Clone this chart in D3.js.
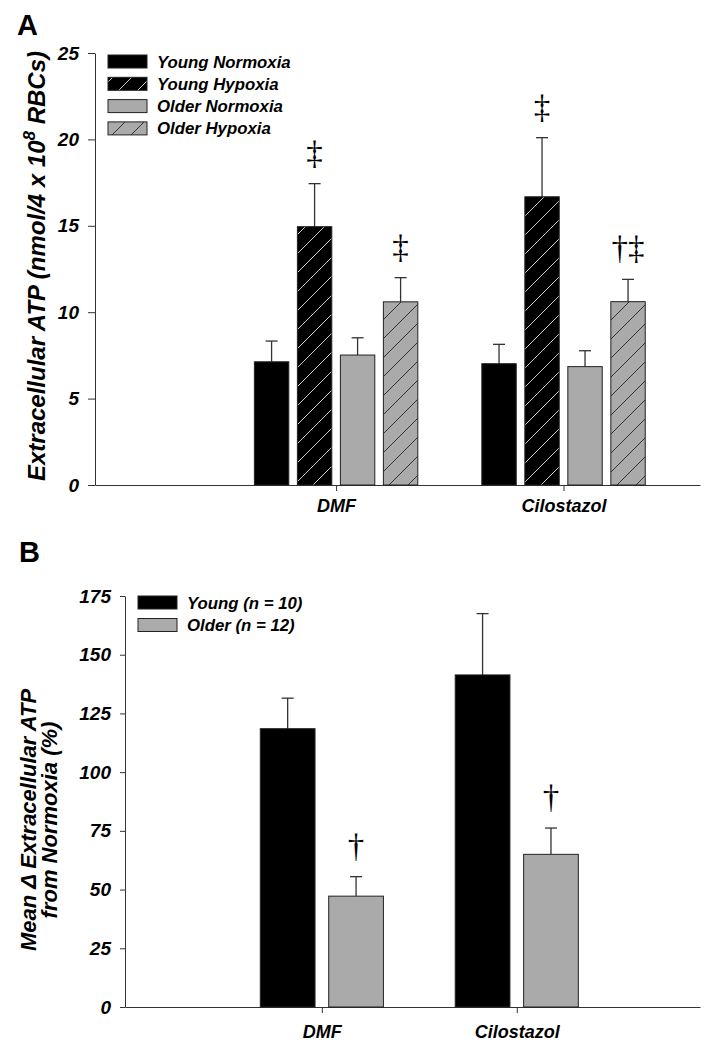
<!DOCTYPE html>
<html>
<head>
<meta charset="utf-8">
<script src="https://cdn.jsdelivr.net/npm/d3@7/dist/d3.min.js"></script>
<style>
  body { margin: 0; background: #fff; }
  svg { display: block; font-family: "Liberation Sans", Arial, sans-serif; }
  .lbl { font-weight: bold; font-style: italic; fill: #000; }
</style>
</head>
<body>
<div id="chart"></div>
<script>
// Datos
const drugs = ["DMF", "Cilostazol"];

// Panel A (nmol/4 x 10^8 RBCs)
const seriesA = ["Young Normoxia", "Young Hypoxia", "Older Normoxia", "Older Hypoxia"];
const youngNormoxia = [7.13, 7.02];
const youngNormoxiaSE = [1.2, 1.12];
const youngHypoxia = [14.95, 16.68];
const youngHypoxiaSE = [2.49, 3.42];
const olderNormoxia = [7.52, 6.85];
const olderNormoxiaSE = [1.0, 0.92];
const olderHypoxia = [10.6, 10.61];
const olderHypoxiaSE = [1.4, 1.29];
const youngHypoxiaSig = ["\u2021", "\u2021"];
const olderHypoxiaSig = ["\u2021", "\u2020\u2021"];
const ticksA = [0, 5, 10, 15, 20, 25];

// Panel B (% change from normoxia)
const seriesB = ["Young (n = 10)", "Older (n = 12)"];
const youngDelta = [118.5, 141.4];
const youngDeltaSE = [13.0, 26.1];
const olderDelta = [47.2, 65.0];
const olderDeltaSE = [8.3, 11.2];
const olderDeltaSig = ["\u2020", "\u2020"];
const ticksB = [0, 25, 50, 75, 100, 125, 150, 175];

const width = 725, height = 1050;
const svg = d3.select('#chart').append('svg')
    .attr('width', width)
    .attr('height', height);

// patrones de rayado
const defs = svg.append('defs');
function hatch(id, bg, line) {
    let p = defs.append('pattern')
        .attr('id', id)
        .attr('patternUnits', 'userSpaceOnUse')
        .attr('width', 19)
        .attr('height', 19);
    p.append('rect').attr('width', 19).attr('height', 19).attr('fill', bg);
    p.append('path')
        .attr('d', 'M0,19 L19,0 M-3,3 L3,-3 M16,22 L22,16')
        .attr('stroke', line)
        .attr('stroke-width', 1);
}
hatch('hatchBlack', '#000', '#c8c8c8');
hatch('hatchGray', '#aaaaaa', '#333');

const fillsA = ['#000', 'url(#hatchBlack)', '#aaaaaa', 'url(#hatchGray)'];
const fillsB = ['#000', '#aaaaaa'];

function styleAxis(g) {
    g.selectAll('path, line').attr('stroke', '#333').attr('stroke-width', 1);
    g.selectAll('text').attr('class', 'lbl').attr('fill', '#000');
}

function drawPanel(cfg) {
    const g = svg.append('g');
    const y = d3.scaleLinear().domain(cfg.yDomain).range(cfg.yRange);
    const x = d3.scaleLinear().domain(cfg.xDomain).range(cfg.xRange);
    const inner = d3.scaleBand()
        .domain(cfg.series)
        .range([-cfg.half, cfg.half])
        .paddingInner(0.2)
        .paddingOuter(0.1);

    // eje y
    g.append('g')
        .attr('transform', 'translate(' + cfg.xRange[0] + ',0)')
        .call(d3.axisLeft(y).tickValues(cfg.ticks).tickSize(cfg.yTick).tickPadding(cfg.yPad).tickSizeOuter(0))
        .call(styleAxis)
        .selectAll('text').style('font-size', '19px');

    // eje x
    g.append('g')
        .attr('transform', 'translate(0,' + cfg.yRange[0] + ')')
        .call(d3.axisBottom(x).tickValues([1, 2]).tickFormat((d, i) => drugs[i]).tickSize(6).tickPadding(cfg.xPad).tickSizeOuter(0))
        .call(styleAxis)
        .selectAll('text').style('font-size', '18px');

    // barras
    cfg.series.forEach(function(s, si) {
        drugs.forEach(function(dname, di) {
            let v = cfg.values[si][di], e = cfg.errors[si][di];
            let bx = x(di + 1) + inner(s);
            let cx = bx + inner.bandwidth() / 2;
            g.append('line')
                .attr('x1', cx).attr('x2', cx)
                .attr('y1', y(v)).attr('y2', y(v + e))
                .attr('stroke', '#333').attr('stroke-width', 1.3);
            g.append('line')
                .attr('x1', cx - 6).attr('x2', cx + 6)
                .attr('y1', y(v + e)).attr('y2', y(v + e))
                .attr('stroke', '#333').attr('stroke-width', 1.3);
            g.append('rect')
                .attr('x', bx)
                .attr('y', y(v))
                .attr('width', inner.bandwidth())
                .attr('height', y(0) - y(v))
                .attr('fill', cfg.fills[si])
                .attr('stroke', '#222')
                .attr('stroke-width', 1);
            let sig = cfg.sig[si] ? cfg.sig[si][di] : '';
            if (sig) {
                g.append('text')
                    .attr('x', cx)
                    .attr('y', y(v + e) - 20)
                    .attr('text-anchor', 'middle')
                    .style('font-family', '"Liberation Serif", serif')
                    .style('font-size', '33px')
                    .text(sig);
            }
        });
    });

    // leyenda
    cfg.series.forEach(function(s, si) {
        let ly = cfg.legY + si * cfg.legStep;
        g.append('rect')
            .attr('x', cfg.legX).attr('y', ly - 6.5)
            .attr('width', 39).attr('height', 13)
            .attr('fill', cfg.fills[si])
            .attr('stroke', '#222').attr('stroke-width', 1);
        g.append('text')
            .attr('class', 'lbl')
            .attr('x', cfg.legX + 49).attr('y', ly + 6)
            .style('font-size', '16.8px')
            .text(s);
    });

    // letra del panel
    g.append('text')
        .attr('x', cfg.letterX).attr('y', cfg.letterY)
        .style('font-weight', 'bold')
        .style('font-size', '29px')
        .text(cfg.letter);
    return {x: x, y: y};
}

drawPanel({
    letter: 'A', letterX: 17, letterY: 35,
    series: seriesA,
    values: [youngNormoxia, youngHypoxia, olderNormoxia, olderHypoxia],
    errors: [youngNormoxiaSE, youngHypoxiaSE, olderNormoxiaSE, olderHypoxiaSE],
    sig: [null, youngHypoxiaSig, null, olderHypoxiaSig],
    fills: fillsA,
    yDomain: [0, 25], yRange: [485, 53], ticks: ticksA, yTick: 7, yPad: 9,
    xDomain: [-0.06, 2.6], xRange: [95, 700], half: 86, xPad: 8,
    legX: 108, legY: 61.5, legStep: 22.3
});

drawPanel({
    letter: 'B', letterX: 19, letterY: 562,
    series: seriesB,
    values: [youngDelta, olderDelta],
    errors: [youngDeltaSE, olderDeltaSE],
    sig: [null, olderDeltaSig],
    fills: fillsB,
    yDomain: [0, 175], yRange: [1007, 596], ticks: ticksB, yTick: 5, yPad: 9,
    xDomain: [-0.01, 2.94], xRange: [125, 700], half: 68.4, xPad: 12,
    legX: 138, legY: 602.5, legStep: 22.5
});

// titulos de eje y
const yTitleA = svg.append('text')
    .attr('class', 'lbl')
    .attr('transform', 'translate(45,266) rotate(-90)')
    .attr('text-anchor', 'middle')
    .style('font-size', '24px');
yTitleA.append('tspan').text('Extracellular ATP (nmol/4 x 10');
yTitleA.append('tspan').attr('dy', -10).style('font-size', '17px').text('8');
yTitleA.append('tspan').attr('dy', 10).text(' RBCs)');

const yTitleB = svg.append('text')
    .attr('class', 'lbl')
    .attr('transform', 'translate(36,820) rotate(-90)')
    .attr('text-anchor', 'middle')
    .style('font-size', '22px');
yTitleB.append('tspan').attr('x', 0).attr('dy', 0).text('Mean \u0394 Extracellular ATP');
yTitleB.append('tspan').attr('x', 0).attr('dy', 21).text('from Normoxia (%)');
</script>
</body>
</html>
